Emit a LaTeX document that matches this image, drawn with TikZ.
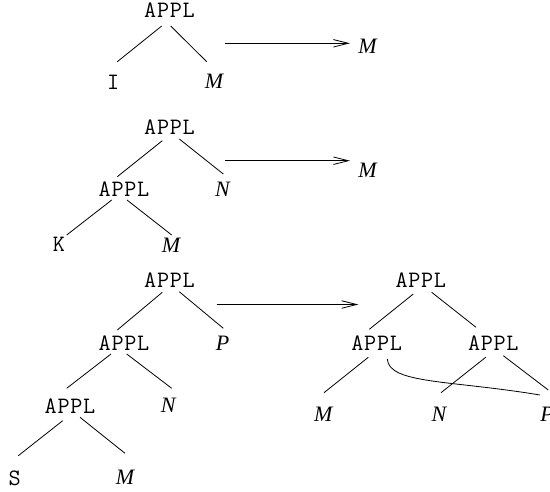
\documentclass[tikz,border=0pt]{standalone}
\usepackage{fontspec}
\setmainfont{Liberation Serif}
\setmonofont{Latin Modern Mono}[LetterSpace=3]
\usetikzlibrary{arrows.meta,calc}
\begin{document}
\begin{tikzpicture}[x=1pt,y=-1pt,
  lbl/.style={inner sep=0pt,anchor=base},
  tt/.style={lbl,font=\fontsize{23.5}{27}\selectfont\ttfamily},
  it/.style={lbl,font=\fontsize{22}{26}\selectfont\itshape},
  br/.style={line width=0.8pt},
  red/.style={line width=0.8pt,-{Straight Barb[length=15pt,width=7.5pt]}}]
\useasboundingbox (0,0) rectangle (550,491);
% tree 1
\node[tt] (a1) at (169.5,17.3) {APPL};
\node[tt] (i1) at (113.3,89.3) {I};
\node[it] (m1) at (214,88.3) {M};
\node[it] (r1) at (367.5,53.3) {M};
\draw[br] ($(a1.base)+(-7.8,8.7)$) -- ($(i1.base)+(4,-27.6)$);
\draw[br] ($(a1.base)+(1.2,8.7)$) -- ($(m1.base)+(-7.3,-26.6)$);
\draw[red] ($(a1.base)+(55.8,26)$) -- ($(r1.base)+(-17.5,-10)$);
% tree 2
\node[tt] (a2) at (169.5,134) {APPL};
\node[tt] (b2) at (124,196.7) {APPL};
\node[it] (n2) at (222.5,196.7) {N};
\node[tt] (k2) at (59,251.7) {K};
\node[it] (m2) at (171,252.5) {M};
\node[it] (r2) at (367.5,177.3) {M};
\draw[br] ($(a2.base)+(-7.2,6.7)$) -- ($(b2.base)+(-6.7,-20)$);
\draw[br] ($(a2.base)+(9.8,5)$) -- ($(n2.base)+(0.8,-22.7)$);
\draw[br] ($(b2.base)+(-12.3,3.3)$) -- ($(k2.base)+(7.7,-16.7)$);
\draw[br] ($(b2.base)+(3,3.3)$) -- ($(m2.base)+(0.7,-17.5)$);
\draw[red] ($(a2.base)+(55.8,26.7)$) -- ($(r2.base)+(-17.5,-16.6)$);
% tree 3
\node[tt] (a3) at (169.5,287.3) {APPL};
\node[tt] (b3) at (124,350.7) {APPL};
\node[it] (p3) at (222.5,350) {P};
\node[tt] (c3) at (70,413.3) {APPL};
\node[it] (n3) at (168.3,412.7) {N};
\node[tt] (s3) at (14.7,485) {S};
\node[it] (m3) at (125,484) {M};
\draw[br] ($(a3.base)+(-7.2,5)$) -- ($(b3.base)+(-6.7,-20.7)$);
\draw[br] ($(a3.base)+(9.8,4.4)$) -- ($(p3.base)+(0.8,-21.7)$);
\draw[br] ($(b3.base)+(-13,3.3)$) -- ($(c3.base)+(-3.3,-25)$);
\draw[br] ($(b3.base)+(2.7,3.3)$) -- ($(n3.base)+(3.4,-24.4)$);
\draw[br] ($(c3.base)+(-7.3,7.4)$) -- ($(s3.base)+(3.6,-29.3)$);
\draw[br] ($(c3.base)+(10,4)$) -- ($(m3.base)+(0,-30.7)$);
% result tree
\node[tt] (ra) at (420.8,287.3) {APPL};
\node[tt] (rb) at (376.7,350.5) {APPL};
\node[tt] (rc) at (493.3,350.5) {APPL};
\node[it] (rm) at (323.3,421.7) {M};
\node[it] (rn) at (439,421.7) {N};
\node[it] (rp) at (547,421.7) {P};
\draw[br] ($(ra.base)+(-7.5,6.7)$) -- ($(rb.base)+(-7.4,-21.2)$);
\draw[br] ($(ra.base)+(10.9,5)$) -- ($(rc.base)+(-17.3,-23.2)$);
\draw[br] ($(rb.base)+(-8.4,6.8)$) -- ($(rm.base)+(0.7,-29)$);
\draw[br] ($(rc.base)+(-7.6,6.8)$) -- ($(rn.base)+(2,-29)$);
\draw[br] ($(rc.base)+(10,5.2)$) -- ($(rp.base)+(1.3,-31.7)$);
\draw[br] ($(rb.base)+(10.6,8.5)$) .. controls +(1.7,25) and +(-90,-15) .. ($(rp.base)+(-7,-26.7)$);
\draw[red] ($(a3.base)+(47.2,17.2)$) -- ($(ra.base)+(-62.5,17.2)$);
\end{tikzpicture}
\end{document}
